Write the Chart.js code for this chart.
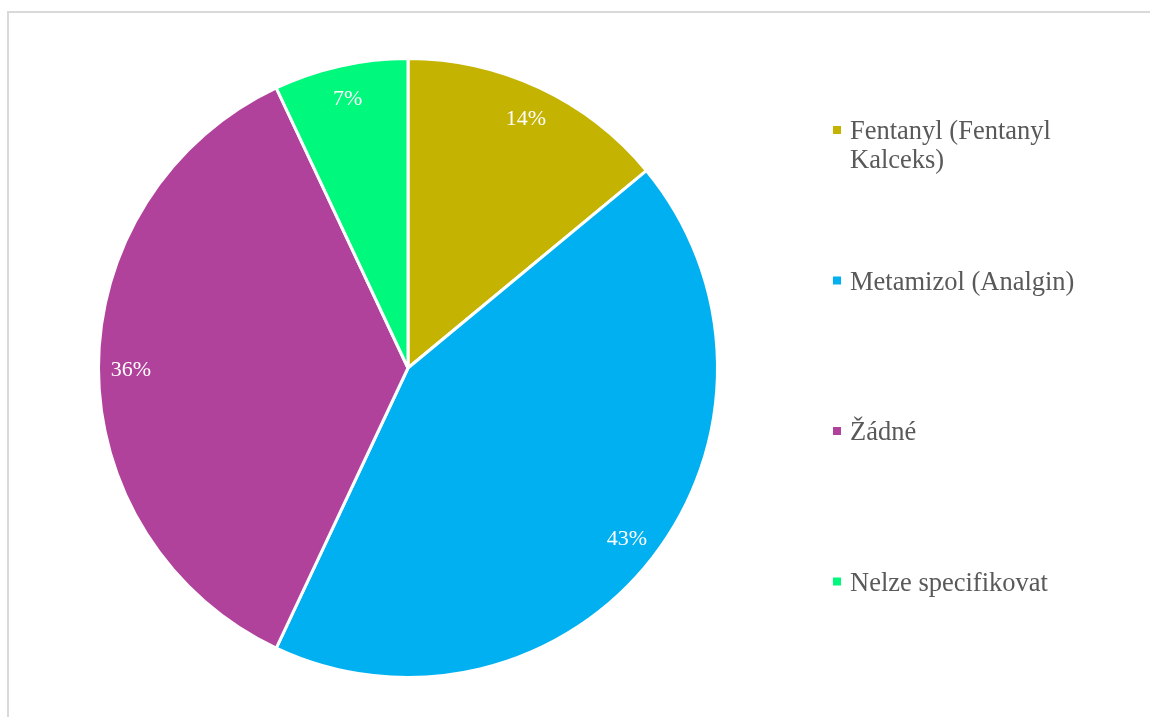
<!DOCTYPE html>
<html lang="cs">
<head>
<meta charset="utf-8">
<title>Analgezie</title>
<script src="https://cdn.jsdelivr.net/npm/chart.js@4.4.1/dist/chart.umd.min.js"></script>
<style>
  html, body { margin: 0; padding: 0; background: #fff; overflow: hidden; }
  .frame {
    position: absolute; left: 7px; top: 11px; width: 2000px; height: 2000px;
    border-left: 2px solid #d9d9d9; border-top: 2px solid #d9d9d9;
  }
  #pieChart { position: absolute; left: 0; top: 0; }
</style>
</head>
<body>
<div class="frame"></div>
<canvas id="pieChart" width="1150" height="717"></canvas>
<script>
const categories = [['Fentanyl (Fentanyl', 'Kalceks)'], 'Metamizol (Analgin)', 'Žádné', 'Nelze specifikovat'];
const shares = [14, 43, 36, 7];
const sliceColors = ['#c4b300', '#00b0f0', '#b1429b', '#00f87c'];

// percentage text inside each slice, near the outer edge
const sliceLabels = {
  id: 'sliceLabels',
  afterDatasetsDraw(chart) {
    const ctx = chart.ctx;
    const meta = chart.getDatasetMeta(0);
    ctx.save();
    ctx.font = '22px "Liberation Serif", "Times New Roman", serif';
    ctx.fillStyle = '#ffffff';
    ctx.textAlign = 'center';
    ctx.textBaseline = 'alphabetic';
    meta.data.forEach((arc, i) => {
      const p = arc.getProps(['x', 'y', 'startAngle', 'endAngle', 'outerRadius'], true);
      const mid = (p.startAngle + p.endAngle) / 2;
      const r = p.outerRadius * 0.895;
      const x = p.x + Math.cos(mid) * r;
      const y = p.y + Math.sin(mid) * r;
      ctx.fillText(chart.data.datasets[0].data[i] + '%', x, y + 7.5);
    });
    ctx.restore();
  }
};

// legend on the right, one entry every 150px
const sideLegend = {
  id: 'sideLegend',
  afterDraw(chart) {
    const ctx = chart.ctx;
    ctx.save();
    ctx.font = '26.5px "Liberation Serif", "Times New Roman", serif';
    ctx.textAlign = 'left';
    ctx.textBaseline = 'alphabetic';
    chart.data.labels.forEach((label, i) => {
      const cy = 130 + i * 150.5;
      ctx.fillStyle = sliceColors[i];
      ctx.fillRect(833, cy - 4, 8, 8);
      ctx.fillStyle = '#595959';
      const lines = Array.isArray(label) ? label : [label];
      lines.forEach((line, j) => {
        ctx.fillText(line, 850, cy + 9 + j * 29);
      });
    });
    ctx.restore();
  }
};

const ctx = document.getElementById('pieChart').getContext('2d');
const pieChart = new Chart(ctx, {
  type: 'pie',
  data: {
    labels: categories,
    datasets: [{
      data: shares,
      backgroundColor: sliceColors,
      borderColor: '#ffffff',
      borderWidth: 3
    }]
  },
  options: {
    responsive: false,
    animation: false,
    layout: { padding: { left: 97, right: 431, top: 57, bottom: 38 } },
    plugins: {
      legend: { display: false },
      tooltip: { enabled: false }
    }
  },
  plugins: [sliceLabels, sideLegend]
});
</script>
</body>
</html>
